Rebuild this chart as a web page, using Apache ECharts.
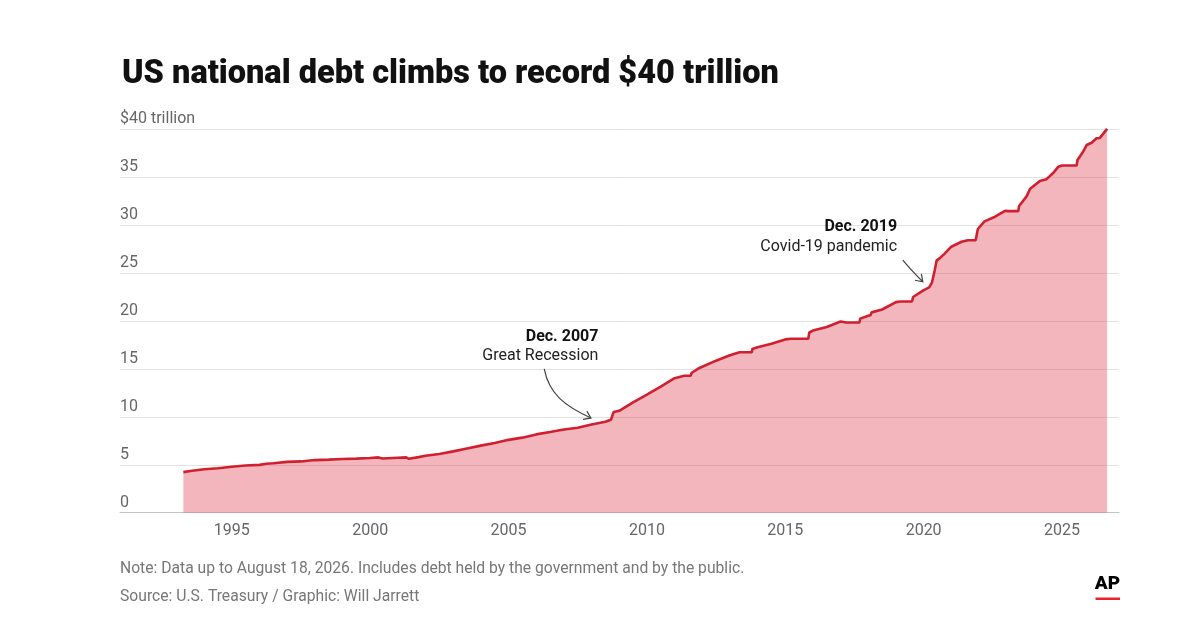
<!DOCTYPE html>
<html>
<head>
<meta charset="utf-8">
<script src="https://cdn.jsdelivr.net/npm/echarts@6/dist/echarts.min.js"></script>
<style>
  html, body { margin: 0; padding: 0; background: #fff; }
  #chart { width: 1200px; height: 635px; }
</style>
</head>
<body>
<div id="chart"></div>
<script>
// ---- Data (decimal year, trillions of dollars) ----
const years = [
  1993.25, 1993.5, 1994.0, 1994.5, 1995.0, 1995.5, 1996.0, 1996.25, 1996.5, 1997.0,
  1997.5, 1998.0, 1998.5, 1999.0, 1999.5, 2000.0, 2000.3, 2000.45, 2001.0, 2001.3,
  2001.4, 2001.75, 2002.0, 2002.5, 2003.0, 2003.5, 2004.0, 2004.5, 2005.0, 2005.5,
  2006.0, 2006.5, 2007.0, 2007.5, 2008.0, 2008.5, 2008.7, 2008.8, 2009.0, 2009.5,
  2010.0, 2010.5, 2011.0, 2011.35, 2011.58, 2011.62, 2011.9, 2012.0, 2012.5, 2013.0,
  2013.35, 2013.79, 2013.81, 2014.0, 2014.5, 2015.0, 2015.2, 2015.83, 2015.87, 2016.0,
  2016.5, 2017.0, 2017.2, 2017.68, 2017.71, 2018.0, 2018.08, 2018.12, 2018.5, 2019.0,
  2019.17, 2019.58, 2019.62, 2019.99, 2020.2, 2020.3, 2020.4, 2020.47, 2020.6, 2020.75,
  2021.0, 2021.37, 2021.6, 2021.88, 2021.96, 2022.2, 2022.58, 2022.94, 2023.05, 2023.42,
  2023.45, 2023.72, 2023.85, 2024.2, 2024.44, 2024.7, 2024.87, 2025.0, 2025.53, 2025.56,
  2025.75, 2025.89, 2026.07, 2026.25, 2026.37, 2026.63
];
const debt = [
  4.23, 4.35, 4.53, 4.64, 4.80, 4.93, 4.99, 5.10, 5.16, 5.30,
  5.35, 5.49, 5.54, 5.61, 5.64, 5.71, 5.77, 5.65, 5.73, 5.77,
  5.62, 5.80, 5.94, 6.13, 6.40, 6.70, 7.00, 7.27, 7.60, 7.83,
  8.17, 8.42, 8.68, 8.87, 9.20, 9.49, 9.70, 10.50, 10.63, 11.50,
  12.31, 13.16, 14.03, 14.29, 14.29, 14.60, 15.10, 15.23, 15.86, 16.43,
  16.74, 16.74, 17.08, 17.26, 17.63, 18.08, 18.15, 18.15, 18.80, 19.00,
  19.38, 19.95, 19.85, 19.85, 20.25, 20.55, 20.60, 20.90, 21.20, 21.97,
  22.03, 22.03, 22.50, 23.20, 23.50, 24.00, 25.30, 26.30, 26.60, 27.00,
  27.75, 28.27, 28.43, 28.43, 29.60, 30.40, 30.88, 31.50, 31.46, 31.46,
  32.00, 33.00, 33.80, 34.60, 34.80, 35.50, 36.10, 36.22, 36.22, 36.80,
  37.60, 38.36, 38.60, 39.06, 39.10, 40.05
];
const xTickYears = [1995, 2000, 2005, 2010, 2015, 2020, 2025];
const yTicks = [0, 5, 10, 15, 20, 25, 30, 35, 40];
const annotations = [
  { date: 'Dec. 2007', label: 'Great Recession', x: 2007.96, y: 9.3 },
  { date: 'Dec. 2019', label: 'Covid-19 pandemic', x: 2019.96, y: 23.2 }
];
const titleText = 'US national debt climbs to record $40 trillion';
const noteText = 'Note: Data up to August 18, 2026. Includes debt held by the government and by the public.';
const sourceText = 'Source: U.S. Treasury / Graphic: Will Jarrett';

const seriesData = years.map((y, i) => [y, debt[i]]);

const chart = echarts.init(document.getElementById('chart'), null, { renderer: 'canvas' });
const baseFont = 'Roboto, "Noto Sans", sans-serif';

chart.setOption({
  animation: false,
  backgroundColor: '#fff',
  title: {
    text: titleText,
    left: 117,
    top: 53,
    textStyle: { fontFamily: baseFont, fontSize: 32.5, fontWeight: 900, color: '#111' }
  },
  grid: { left: 120, right: 81, top: 129.3, bottom: 122.3, containLabel: false },
  xAxis: {
    type: 'value',
    min: 1990.96,
    max: 2027.06,
    axisLine: { show: true, lineStyle: { color: '#c4c4c4', width: 1 } },
    axisTick: { show: false },
    splitLine: { show: false },
    axisLabel: {
      customValues: xTickYears,
      formatter: v => String(Math.round(v)),
      color: '#666',
      fontFamily: baseFont,
      fontSize: 16,
      margin: 10
    }
  },
  yAxis: {
    type: 'value',
    min: 0,
    max: 40,
    interval: 5,
    axisLine: { show: false },
    axisTick: { show: false },
    splitLine: { show: true, lineStyle: { color: '#e2e2e2', width: 1 } },
    axisLabel: {
      inside: true,
      margin: 0,
      align: 'left',
      verticalAlign: 'bottom',
      padding: [0, 0, 2, 0],
      color: '#666',
      fontFamily: baseFont,
      fontSize: 16,
      formatter: v => (v === 40 ? '$40 trillion' : String(v))
    }
  },
  series: [{
    type: 'line',
    data: seriesData,
    showSymbol: false,
    symbol: 'none',
    lineStyle: { color: '#d01f2e', width: 2.6 },
    areaStyle: { color: 'rgba(228,72,90,0.4)', opacity: 1 },
    z: 2
  }]
});

function arrowHead(tip, from, len, ang) {
  const a = Math.atan2(tip[1] - from[1], tip[0] - from[0]);
  const p1 = [tip[0] - len * Math.cos(a - ang), tip[1] - len * Math.sin(a - ang)];
  const p2 = [tip[0] - len * Math.cos(a + ang), tip[1] - len * Math.sin(a + ang)];
  return [p1, tip, p2];
}

function buildGraphics() {
  const g = [];
  const a1 = annotations[0];
  const p1 = chart.convertToPixel({ xAxisIndex: 0, yAxisIndex: 0 }, [a1.x, a1.y]);
  const tip1 = [p1[0] + 0.5, p1[1] - 5.6];
  const s1 = [tip1[0] - 46.7, tip1[1] - 49];
  const c1a = [tip1[0] - 42, tip1[1] - 24];
  const c1b = [tip1[0] - 26, tip1[1] - 12];
  g.push({ type: 'bezierCurve', shape: { x1: s1[0], y1: s1[1], cpx1: c1a[0], cpy1: c1a[1], cpx2: c1b[0], cpy2: c1b[1], x2: tip1[0], y2: tip1[1] },
           style: { stroke: '#444', lineWidth: 1.2, fill: null }, z: 10 });
  g.push({ type: 'polyline', shape: { points: arrowHead(tip1, c1b, 8, 0.6) }, style: { stroke: '#444', lineWidth: 1.2, fill: null }, z: 10 });
  g.push({ type: 'text', x: tip1[0] + 7.5, y: tip1[1] - 81, style: { text: a1.date, align: 'right', verticalAlign: 'middle', font: 'bold 16px ' + baseFont, fill: '#111' }, z: 10 });
  g.push({ type: 'text', x: tip1[0] + 7.5, y: tip1[1] - 62, style: { text: a1.label, align: 'right', verticalAlign: 'middle', font: '16px ' + baseFont, fill: '#222' }, z: 10 });

  const a2 = annotations[1];
  const p2 = chart.convertToPixel({ xAxisIndex: 0, yAxisIndex: 0 }, [a2.x, a2.y]);
  const tip2 = [p2[0] + 0.3, p2[1] - 8.6];
  const s2 = [tip2[0] - 20, tip2[1] - 21.7];
  const c2 = [tip2[0] - 12, tip2[1] - 12];
  g.push({ type: 'bezierCurve', shape: { x1: s2[0], y1: s2[1], cpx1: c2[0], cpy1: c2[1], x2: tip2[0], y2: tip2[1] },
           style: { stroke: '#444', lineWidth: 1.2, fill: null }, z: 10 });
  g.push({ type: 'polyline', shape: { points: arrowHead(tip2, c2, 8, 0.6) }, style: { stroke: '#444', lineWidth: 1.2, fill: null }, z: 10 });
  g.push({ type: 'text', x: tip2[0] - 25.7, y: tip2[1] - 55, style: { text: a2.date, align: 'right', verticalAlign: 'middle', font: 'bold 16px ' + baseFont, fill: '#111' }, z: 10 });
  g.push({ type: 'text', x: tip2[0] - 25.7, y: tip2[1] - 35, style: { text: a2.label, align: 'right', verticalAlign: 'middle', font: '16px ' + baseFont, fill: '#222' }, z: 10 });

  // footer (slightly condensed)
  g.push({ type: 'text', x: 120, y: 569, scaleX: 0.95, originX: 0, style: { text: noteText, align: 'left', verticalAlign: 'middle', font: '16.5px ' + baseFont, fill: '#777' } });
  g.push({ type: 'text', x: 120, y: 597, scaleX: 0.95, originX: 0, style: { text: sourceText, align: 'left', verticalAlign: 'middle', font: '16.5px ' + baseFont, fill: '#777' } });
  // AP logo
  g.push({ type: 'text', x: 1107.5, y: 584, style: { text: 'AP', align: 'center', verticalAlign: 'middle', font: '900 19px ' + baseFont, fill: '#000' } });
  g.push({ type: 'rect', shape: { x: 1095.5, y: 597.5, width: 24.5, height: 2.5 }, style: { fill: '#e8222e' } });
  return g;
}

chart.setOption({ graphic: buildGraphics() });
</script>
</body>
</html>
